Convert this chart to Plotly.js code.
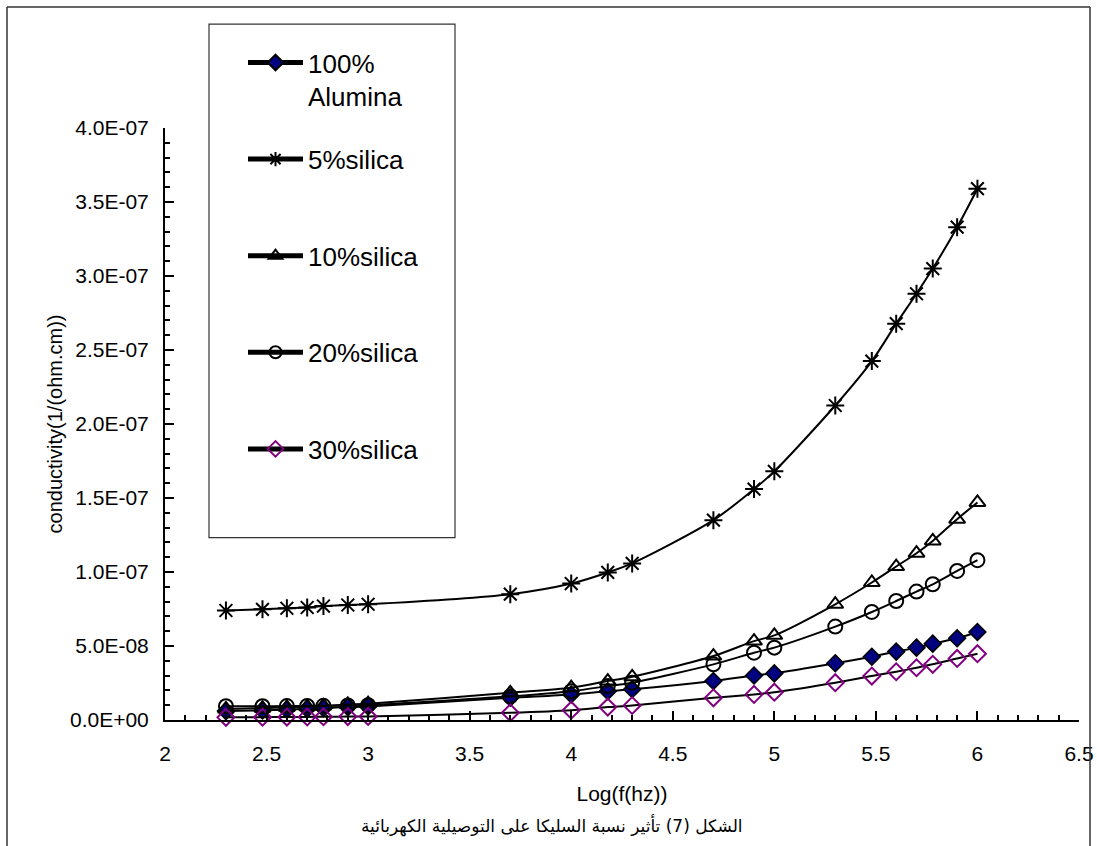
<!DOCTYPE html>
<html>
<head>
<meta charset="utf-8">
<script src="https://cdn.plot.ly/plotly-3.0.1.min.js"></script>
<style>html,body{margin:0;padding:0;background:#fff;}#chart{width:1097px;height:846px;}</style>
</head>
<body>
<div id="chart"></div>
<script>
// log10 of frequency (Hz)
const logF = [2.30, 2.48, 2.60, 2.70, 2.78, 2.90, 3.00, 3.70, 4.00, 4.18, 4.30, 4.70, 4.90, 5.00, 5.30, 5.48, 5.60, 5.70, 5.78, 5.90, 6.00];

const alumina100 = [6.0e-9, 6.5e-9, 7.0e-9, 7.5e-9, 8.0e-9, 8.7e-9, 9.2e-9, 1.50e-8, 1.73e-8, 1.95e-8, 2.07e-8, 2.63e-8, 3.01e-8, 3.15e-8, 3.83e-8, 4.28e-8, 4.62e-8, 4.89e-8, 5.16e-8, 5.52e-8, 5.95e-8];
const silica5 = [7.40e-8, 7.48e-8, 7.55e-8, 7.60e-8, 7.70e-8, 7.77e-8, 7.82e-8, 8.50e-8, 9.22e-8, 9.97e-8, 1.058e-7, 1.35e-7, 1.56e-7, 1.68e-7, 2.125e-7, 2.425e-7, 2.678e-7, 2.88e-7, 3.05e-7, 3.33e-7, 3.59e-7];
const silica10 = [7.5e-9, 8.0e-9, 8.5e-9, 9.0e-9, 9.5e-9, 1.05e-8, 1.10e-8, 1.84e-8, 2.18e-8, 2.63e-8, 2.92e-8, 4.32e-8, 5.33e-8, 5.72e-8, 7.82e-8, 9.29e-8, 1.037e-7, 1.127e-7, 1.21e-7, 1.357e-7, 1.47e-7];
const silica20 = [9.3e-9, 9.3e-9, 9.4e-9, 9.5e-9, 9.6e-9, 9.8e-9, 1.00e-8, 1.60e-8, 1.95e-8, 2.29e-8, 2.52e-8, 3.76e-8, 4.55e-8, 4.89e-8, 6.31e-8, 7.30e-8, 8.04e-8, 8.68e-8, 9.17e-8, 1.007e-7, 1.08e-7];
const silica30 = [1.8e-9, 1.9e-9, 2.0e-9, 2.1e-9, 2.2e-9, 2.3e-9, 2.4e-9, 4.9e-9, 6.6e-9, 8.7e-9, 9.8e-9, 1.50e-8, 1.73e-8, 1.88e-8, 2.52e-8, 2.97e-8, 3.26e-8, 3.53e-8, 3.76e-8, 4.16e-8, 4.48e-8];

const seriesNames = ["100%<br>Alumina", "5%silica<br> ", "10%silica<br> ", "20%silica<br> ", "30%silica<br> "];

const yTickVals = [0, 5e-8, 1e-7, 1.5e-7, 2e-7, 2.5e-7, 3e-7, 3.5e-7, 4e-7];
const yTickText = ["0.0E+00", "5.0E-08", "1.0E-07", "1.5E-07", "2.0E-07", "2.5E-07", "3.0E-07", "3.5E-07", "4.0E-07"];
const xTickVals = [2, 2.5, 3, 3.5, 4, 4.5, 5, 5.5, 6, 6.5];
const xTickText = ["2", "2.5", "3", "3.5", "4", "4.5", "5", "5.5", "6", "6.5"];

const FONT = "Liberation Sans, Arial, sans-serif";
const lineStyle = {color: "#000000", width: 2, shape: "spline", smoothing: 0.8};

function mk(y, name, marker, grp) {
  return {x: logF, y: y, name: name, type: "scatter", mode: "lines+markers",
          line: lineStyle, marker: marker, legendgroup: grp, cliponaxis: false};
}

const traces = [
  mk(alumina100, seriesNames[0], {symbol: "diamond", size: 13, color: "#000080", line: {color: "#000000", width: 1.5}}, "g1"),
  mk(silica5, seriesNames[1], {symbol: "asterisk-open", size: 15, color: "#000000", line: {color: "#000000", width: 2}}, "g2"),
  mk(silica10, seriesNames[2], {symbol: "triangle-up-open", size: 14, color: "#000000", line: {color: "#000000", width: 2}}, "g3"),
  mk(silica20, seriesNames[3], {symbol: "circle-open", size: 14, color: "#000000", line: {color: "#000000", width: 2}}, "g4"),
  mk(silica30, seriesNames[4], {symbol: "diamond-open", size: 13, color: "#800080", line: {color: "#800080", width: 2}}, "g5")
];

const layout = {
  width: 1097, height: 846,
  margin: {l: 165, r: 18, t: 128, b: 125.5},
  paper_bgcolor: "#ffffff", plot_bgcolor: "#ffffff",
  font: {family: FONT, size: 20, color: "#000000"},
  showlegend: true,
  legend: {
    x: (243-165)/914, y: (720.5-39)/592.5, xanchor: "left", yanchor: "top",
    bgcolor: "rgba(255,255,255,0)", borderwidth: 0,
    font: {family: FONT, size: 26, color: "#000000"},
    tracegroupgap: 26, valign: "top", itemwidth: 55, itemsizing: "constant",
    maxheight: 800
  },
  xaxis: {
    range: [2, 6.5], showgrid: false, zeroline: false,
    showline: true, linecolor: "#000000", linewidth: 2,
    ticks: "inside", ticklen: 9, tickwidth: 2, tickcolor: "#000000",
    tickvals: xTickVals, ticktext: xTickText, ticklabelstandoff: 14,
    minor: {ticks: "inside", dtick: 0.1, ticklen: 5, tickwidth: 2, tickcolor: "#000000", showgrid: false},
    tickfont: {family: FONT, size: 21},
    title: {text: "Log(f(hz))", font: {family: FONT, size: 21}, standoff: 22}
  },
  yaxis: {
    range: [0, 4e-7], showgrid: false, zeroline: false,
    showline: true, linecolor: "#000000", linewidth: 2,
    ticks: "inside", ticklen: 9, tickwidth: 2, tickcolor: "#000000",
    tickvals: yTickVals, ticktext: yTickText, ticklabelstandoff: 10,
    minor: {ticks: "inside", dtick: 1e-8, ticklen: 5, tickwidth: 2, tickcolor: "#000000", showgrid: false},
    tickfont: {family: FONT, size: 21},
    title: {text: "conductivity(1/(ohm.cm))", font: {family: FONT, size: 20}, standoff: 2}
  },
  shapes: [
    // legend frame
    {type: "rect", xref: "paper", yref: "paper", x0: (209-165)/914, x1: (455-165)/914,
     y0: (720.5-538)/592.5, y1: (720.5-24)/592.5, line: {color: "#333333", width: 1.2}, fillcolor: "rgba(0,0,0,0)", layer: "below"},
    // outer chart frame (left, top, right)
    {type: "line", xref: "paper", yref: "paper", x0: (7-165)/914, x1: (7-165)/914,
     y0: (720.5-7)/592.5, y1: (720.5-860)/592.5, line: {color: "#333333", width: 1.5}},
    {type: "line", xref: "paper", yref: "paper", x0: (7-165)/914, x1: (1090-165)/914,
     y0: (720.5-7)/592.5, y1: (720.5-7)/592.5, line: {color: "#333333", width: 1.5}},
    {type: "line", xref: "paper", yref: "paper", x0: (1090-165)/914, x1: (1090-165)/914,
     y0: (720.5-7)/592.5, y1: (720.5-860)/592.5, line: {color: "#333333", width: 1.5}}
  ],
  annotations: [
    {text: "الشكل (7) تأثير نسبة السليكا على التوصيلية الكهربائية", xref: "paper", yref: "paper",
     x: (552-165)/914, y: (720.5-826)/592.5, xanchor: "center", yanchor: "middle", showarrow: false,
     font: {family: "DejaVu Sans, Noto Sans, sans-serif", size: 17, color: "#000000"}}
  ]
};

Plotly.newPlot("chart", traces, layout, {displayModeBar: false, staticPlot: true});
</script>
</body>
</html>
